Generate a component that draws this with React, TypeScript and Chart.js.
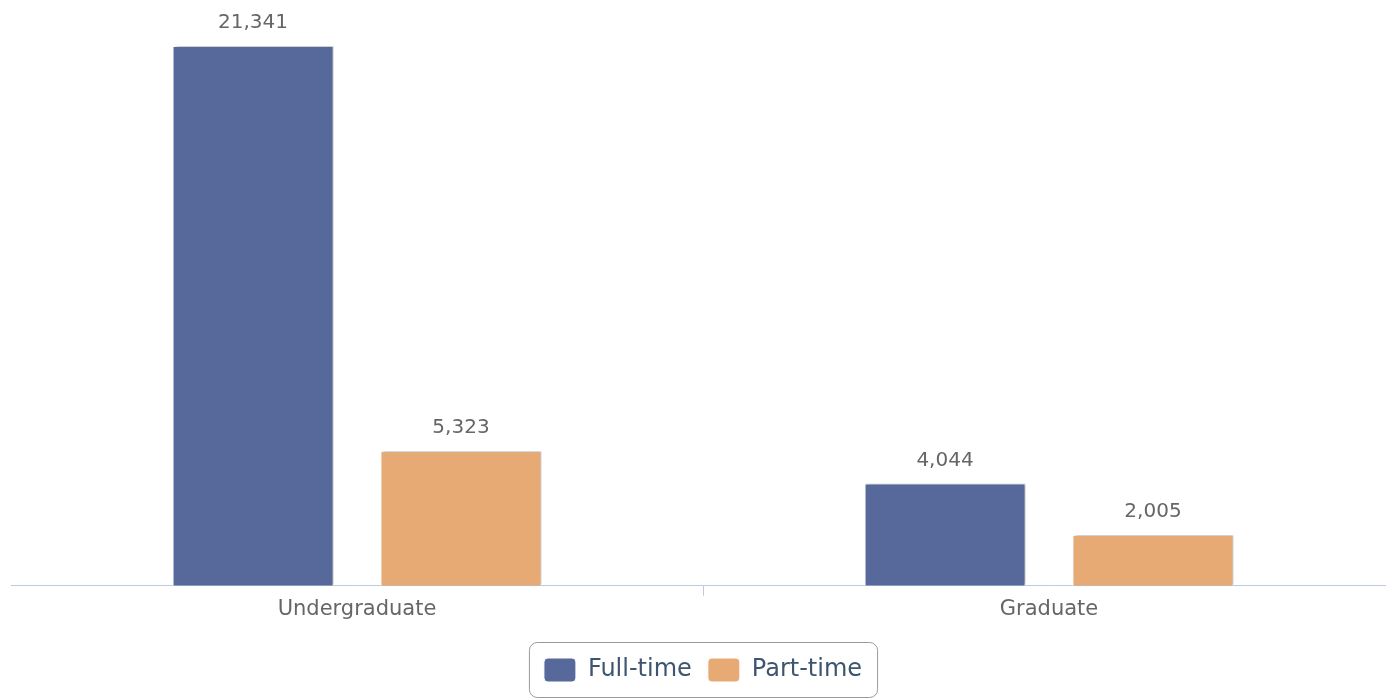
import React, { useEffect, useRef } from "react";
import { Chart, registerables } from "chart.js";

Chart.register(...registerables);

const categories = ["Undergraduate", "Graduate"];
const fullTime = [21341, 4044];
const partTime = [5323, 2005];
const seriesNames = ["Full-time", "Part-time"];

const FONT = "'DejaVu Sans', Verdana, sans-serif";

const shadowPlugin = {
  id: "barShadow",
  beforeDatasetsDraw(chart: any) {
    const ctx = chart.ctx;
    ctx.save();
    ctx.shadowColor = "rgba(0,0,0,0.3)";
    ctx.shadowBlur = 3;
    ctx.shadowOffsetX = 2;
    ctx.shadowOffsetY = -1;
  },
  afterDatasetsDraw(chart: any) {
    chart.ctx.restore();
  },
};

const labelPlugin = {
  id: "valueLabels",
  afterDatasetsDraw(chart: any) {
    const ctx = chart.ctx;
    ctx.save();
    ctx.font = `20px ${FONT}`;
    ctx.fillStyle = "#666666";
    ctx.textAlign = "center";
    ctx.textBaseline = "alphabetic";
    chart.data.datasets.forEach((ds: any, i: number) => {
      const meta = chart.getDatasetMeta(i);
      meta.data.forEach((el: any, j: number) => {
        const v = ds.data[j] as number;
        ctx.fillText(v.toLocaleString("en-US"), el.x, el.y - 18);
      });
    });
    ctx.restore();
  },
};

const legendBoxPlugin = {
  id: "legendBox",
  afterDraw(chart: any) {
    const lg = chart.legend;
    if (!lg || !lg.legendHitBoxes || !lg.legendHitBoxes.length) return;
    const boxes = lg.legendHitBoxes;
    let l = Infinity, r = -Infinity, t = Infinity, b = -Infinity;
    boxes.forEach((h: any) => {
      l = Math.min(l, h.left);
      r = Math.max(r, h.left + h.width);
      t = Math.min(t, h.top);
      b = Math.max(b, h.top + h.height);
    });
    const ctx = chart.ctx;
    ctx.save();
    ctx.strokeStyle = "#999999";
    ctx.lineWidth = 1;
    ctx.beginPath();
    (ctx as any).roundRect(l - 14.5, t - 15.5, r - l + 30, b - t + 31, 8);
    ctx.stroke();
    ctx.restore();
  },
};

export default function App() {
  const ref = useRef<HTMLCanvasElement | null>(null);
  useEffect(() => {
    if (!ref.current) return;
    const chart = new Chart(ref.current, {
      type: "bar",
      data: {
        labels: categories,
        datasets: [
          {
            label: seriesNames[0],
            data: fullTime,
            backgroundColor: "#56699a",
            borderColor: "#ffffff",
            borderWidth: 1,
            categoryPercentage: 0.601,
            barPercentage: 0.774,
          },
          {
            label: seriesNames[1],
            data: partTime,
            backgroundColor: "#e8aa75",
            borderColor: "#ffffff",
            borderWidth: 1,
            categoryPercentage: 0.601,
            barPercentage: 0.774,
          },
        ],
      },
      options: {
        animation: false,
        responsive: false,
        maintainAspectRatio: false,
        layout: { padding: { left: 11, right: 5, top: 10, bottom: 8 } },
        scales: {
          x: {
            border: { display: true, color: "#bccbe4", width: 1 },
            grid: {
              display: true,
              offset: true,
              drawOnChartArea: false,
              drawTicks: true,
              tickLength: 10,
              color: (c: any) =>
                c.index === 1 ? "#bccbe4" : "rgba(0,0,0,0)",
            },
            ticks: {
              color: "#666666",
              font: { family: FONT, size: 21 },
              padding: 1,
            },
            afterFit: (scale: any) => {
              scale.height = scale.height + 19;
            },
          },
          y: {
            display: false,
            min: 0,
            max: 22766,
          },
        },
        plugins: {
          legend: {
            display: true,
            position: "bottom",
            labels: {
              color: "#3d5570",
              font: { family: FONT, size: 24 },
              boxWidth: 32,
              boxHeight: 24,
              useBorderRadius: true,
              borderRadius: 4,
              padding: 16,
            },
          },
          tooltip: { enabled: false },
        },
      },
      plugins: [shadowPlugin, labelPlugin, legendBoxPlugin],
    });
    return () => chart.destroy();
  }, []);
  return (
    <div
      style={{
        position: "absolute",
        left: 0,
        top: 0,
        width: 1386,
        height: 700,
        overflow: "hidden",
        background: "#ffffff",
      }}
    >
      <canvas ref={ref} width={1400} height={700} style={{ display: "block" }} />
    </div>
  );
}
